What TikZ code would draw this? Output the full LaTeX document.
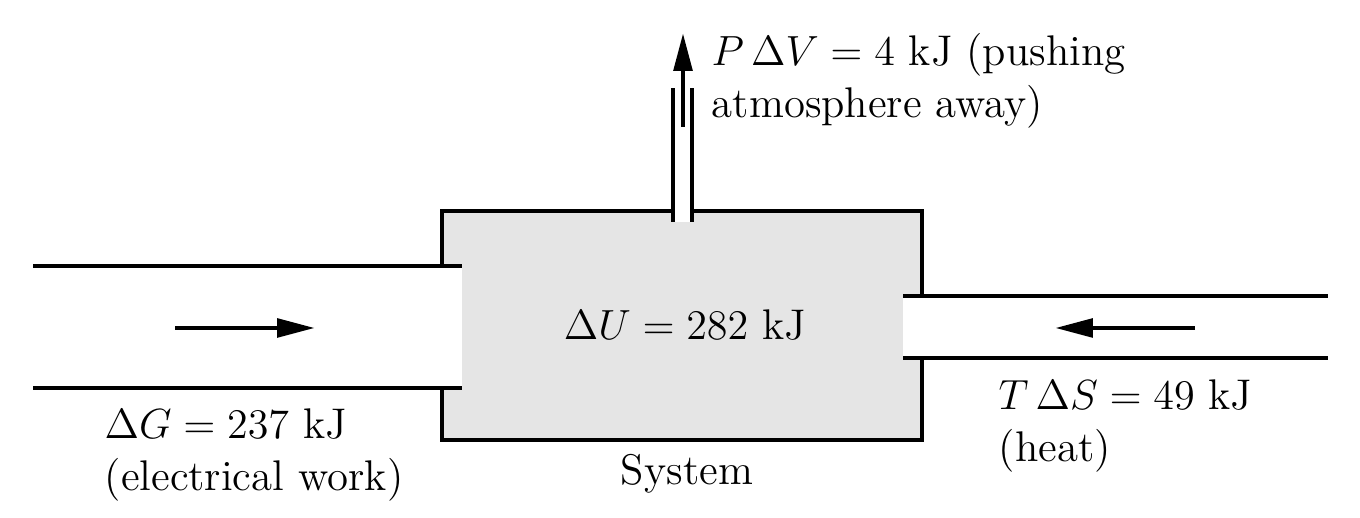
\documentclass[tikz,border=0pt,12pt]{standalone}
\usetikzlibrary{arrows.meta}
\begin{document}
\begin{tikzpicture}

\tikzset{wall/.style = {line width=0.9pt}}
\tikzset{txt/.style = {inner sep=0pt, align=left, font=\fontsize{12.2pt}{14.7pt}\selectfont}}
\tikzset{flow/.style = {line width=1.4pt, -{Triangle[length=10.8pt,width=5.2pt]}}}
\useasboundingbox (0,0) rectangle (13.6,5.18);
% system box
\filldraw[wall, fill=black!10] (4.42,0.78) rectangle (9.22,3.07);
% pipes
\fill[white] (4.30,1.30) rectangle (4.62,2.52);
\draw[wall] (0.33,2.52) -- (4.62,2.52);
\draw[wall] (0.33,1.30) -- (4.62,1.30);
\fill[white] (9.03,1.60) rectangle (9.35,2.22);
\draw[wall] (9.03,2.22) -- (13.28,2.22);
\draw[wall] (9.03,1.60) -- (13.28,1.60);
\fill[white] (6.73,2.96) rectangle (6.92,3.20);
\draw[wall] (6.73,2.96) -- (6.73,4.30);
\draw[wall] (6.92,2.96) -- (6.92,4.30);
% arrow ends
\coordinate (gin) at (1.75,1.90);
\coordinate (gout) at (3.15,1.90);
\coordinate (sin) at (11.95,1.90);
\coordinate (sout) at (10.55,1.90);
\coordinate (vin) at (6.83,3.91);
\coordinate (vout) at (6.83,4.85);
%arrows
\draw[flow] (gin) to (gout);
\draw[flow] (sin) to (sout);
\draw[flow] (vin) to (vout);
% labels
\node[txt, anchor=base] (dU) at (6.85,1.78) {$\Delta U = 282$ kJ};
\node[txt, anchor=base] (sys) at (6.87,0.33) {System};
\node[txt, anchor=north west] (dG) at (1.04,1.10) {$\Delta G = 237$ kJ\\(electrical work)};
\node[txt, anchor=north west] (TdS) at (9.98,1.39) {$T\,\Delta S = 49$ kJ\\(heat)};
\node[txt, anchor=north west] (PdV) at (7.11,4.85) {$P\,\Delta V = 4$ kJ (pushing\\atmosphere away)};
\end{tikzpicture}
\end{document}
